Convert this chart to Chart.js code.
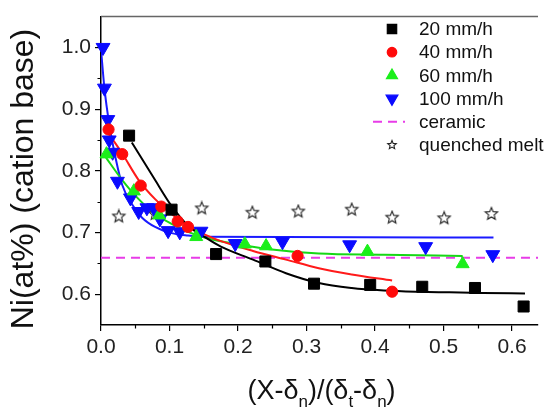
<!DOCTYPE html>
<html>
<head>
<meta charset="utf-8">
<script src="https://cdn.jsdelivr.net/npm/chart.js@4/dist/chart.umd.min.js"></script>
<style>
  html, body { margin: 0; padding: 0; background: #fff; }
</style>
</head>
<body>
<canvas id="chart" width="547" height="417"></canvas>
<script>
// values
const x20 = [0.041, 0.103, 0.168, 0.240, 0.311, 0.393, 0.469, 0.546, 0.617];
const y20 = [0.857, 0.737, 0.665, 0.653, 0.617, 0.615, 0.612, 0.610, 0.580];
const x40 = [0.011, 0.031, 0.058, 0.088, 0.112, 0.127, 0.287, 0.425];
const y40 = [0.867, 0.827, 0.776, 0.742, 0.718, 0.709, 0.662, 0.604];
const x60 = [0.008, 0.048, 0.085, 0.139, 0.210, 0.241, 0.389, 0.528];
const y60 = [0.827, 0.767, 0.728, 0.693, 0.681, 0.678, 0.669, 0.649];
const x100 = [0.003, 0.005, 0.010, 0.012, 0.017, 0.024, 0.043, 0.055, 0.067, 0.077, 0.086, 0.098, 0.115, 0.146, 0.196, 0.265, 0.363, 0.474, 0.572];
const y100 = [1.000, 0.934, 0.883, 0.850, 0.830, 0.783, 0.756, 0.734, 0.740, 0.740, 0.722, 0.703, 0.701, 0.702, 0.682, 0.685, 0.680, 0.677, 0.664];
const xMelt = [0.026, 0.079, 0.147, 0.221, 0.288, 0.366, 0.425, 0.501, 0.570];
const yMelt = [0.726, 0.730, 0.739, 0.732, 0.734, 0.737, 0.724, 0.723, 0.730];
const ceramicLevel = 0.659;

// fitted curves
const fit20x = [0.045, 0.079, 0.103, 0.127, 0.151, 0.175, 0.222, 0.270, 0.318, 0.366, 0.413, 0.461, 0.509, 0.557, 0.619];
const fit20y = [0.846, 0.785, 0.743, 0.711, 0.693, 0.677, 0.656, 0.634, 0.618, 0.610, 0.606, 0.604, 0.603, 0.602, 0.601];
const fit40x = [0.005, 0.031, 0.055, 0.079, 0.103, 0.127, 0.151, 0.175, 0.222, 0.270, 0.318, 0.366, 0.425];
const fit40y = [0.870, 0.828, 0.785, 0.754, 0.730, 0.711, 0.697, 0.686, 0.670, 0.656, 0.642, 0.632, 0.622];
const fit60x = [0.005, 0.031, 0.055, 0.079, 0.103, 0.127, 0.151, 0.199, 0.246, 0.318, 0.413, 0.528];
const fit60y = [0.825, 0.785, 0.754, 0.730, 0.714, 0.701, 0.692, 0.681, 0.673, 0.666, 0.664, 0.662];
const fit100x = [0.000, 0.005, 0.012, 0.022, 0.031, 0.045, 0.060, 0.079, 0.103, 0.127, 0.151, 0.573];
const fit100y = [0.997, 0.934, 0.876, 0.817, 0.777, 0.746, 0.724, 0.709, 0.699, 0.695, 0.693, 0.692];

const xTicks = [0.0, 0.1, 0.2, 0.3, 0.4, 0.5, 0.6];
const xMinor = [0.05, 0.15, 0.25, 0.35, 0.45, 0.55];
const yTicks = [0.6, 0.7, 0.8, 0.9, 1.0];
const yMinor = [0.65, 0.75, 0.85, 0.95];
const xMin = 0, xMax = 0.638, yMin = 0.55, yMax = 1.05;

const FONT = "'Liberation Sans', Arial, sans-serif";
const pts = (xs, ys) => xs.map((x, i) => ({ x: x, y: ys[i] }));

// open five point star for the quenched melt points
function makeStar(size, r) {
    const c = document.createElement('canvas');
    c.width = size; c.height = size;
    const g = c.getContext('2d');
    g.beginPath();
    for (let i = 0; i < 10; i++) {
        const rad = i % 2 === 0 ? r : r * 0.45;
        const a = -Math.PI / 2 + i * Math.PI / 5;
        g.lineTo(size / 2 + rad * Math.cos(a), size / 2 + rad * Math.sin(a));
    }
    g.closePath();
    g.strokeStyle = '#222';
    g.lineWidth = 1.1;
    g.stroke();
    return c;
}
const starImg = makeStar(16, 6.5);
const starSmall = makeStar(12, 4.5);

const markers = (label, data, style, color, radius, rotation) => ({
    label: label,
    data: data,
    showLine: false,
    pointStyle: style,
    pointRadius: radius,
    pointRotation: rotation || 0,
    backgroundColor: color,
    borderColor: color,
    borderWidth: 1,
    clip: false
});
const curve = (data, color) => ({
    data: data,
    showLine: true,
    pointRadius: 0,
    borderColor: color,
    borderWidth: 2,
    cubicInterpolationMode: 'monotone',
    fill: false
});

const datasets = [
    markers('20 mm/h', pts(x20, y20), 'rect', '#000000', 7.8),
    markers('40 mm/h', pts(x40, y40), 'circle', '#ff0a0a', 5.6),
    markers('60 mm/h', pts(x60, y60), 'triangle', '#1bef1b', 7.5),
    markers('100 mm/h', pts(x100, y100), 'triangle', '#0a0aff', 8, 180),
    markers('quenched melt', pts(xMelt, yMelt), starImg, '#222', 7),
    curve(pts(fit20x, fit20y), '#000000'),
    curve(pts(fit40x, fit40y), '#ff1a1a'),
    curve(pts(fit60x, fit60y), '#16d816'),
    curve(pts(fit100x, fit100y), '#1a1aff'),
    {
        label: 'ceramic',
        data: [{ x: xMin, y: ceramicLevel }, { x: xMax, y: ceramicLevel }],
        showLine: true,
        pointRadius: 0,
        borderColor: '#e83ce8',
        borderWidth: 2,
        borderDash: [9, 6]
    }
];

// legend rows: dataset index per row
const legendRows = [0, 1, 2, 3, 9, 4];

const extrasPlugin = {
    id: 'extras',
    afterDraw(chart) {
        const ctx = chart.ctx;
        const area = chart.chartArea;
        const sx = chart.scales.x, sy = chart.scales.y;
        ctx.save();

        // top frame line
        ctx.strokeStyle = '#666';
        ctx.lineWidth = 1.5;
        ctx.beginPath();
        ctx.moveTo(area.left, area.top);
        ctx.lineTo(area.right, area.top);
        ctx.stroke();

        // minor ticks
        ctx.strokeStyle = '#000';
        ctx.lineWidth = 1.2;
        ctx.beginPath();
        xMinor.forEach(v => {
            const px = Math.round(sx.getPixelForValue(v)) + 0.5;
            ctx.moveTo(px, area.bottom);
            ctx.lineTo(px, area.bottom + 3.5);
        });
        yMinor.forEach(v => {
            const py = Math.round(sy.getPixelForValue(v)) + 0.5;
            ctx.moveTo(area.left, py);
            ctx.lineTo(area.left - 3.5, py);
        });
        ctx.stroke();

        // x axis title with subscripts
        const parts = [['(X-δ', 0], ['n', 1], [')/(δ', 0], ['t', 1], ['-δ', 0], ['n', 1], [')', 0]];
        const big = '27px ' + FONT, small = '17px ' + FONT;
        let total = 0;
        parts.forEach(p => { ctx.font = p[1] ? small : big; total += ctx.measureText(p[0]).width; });
        let tx = (area.left + area.right) / 2 - total / 2 + 2;
        const base = 399;
        ctx.fillStyle = '#111';
        ctx.textBaseline = 'alphabetic';
        ctx.textAlign = 'left';
        parts.forEach(p => {
            ctx.font = p[1] ? small : big;
            ctx.fillText(p[0], tx, base + (p[1] ? 8 : 0));
            tx += ctx.measureText(p[0]).width;
        });

        // y axis title, rotated
        ctx.save();
        ctx.translate(33, 179);
        ctx.rotate(-Math.PI / 2);
        ctx.font = '32px ' + FONT;
        ctx.textAlign = 'center';
        ctx.fillText('Ni(at%) (cation base)', 0, 0);
        ctx.restore();

        // legend
        ctx.font = '19px ' + FONT;
        ctx.textBaseline = 'middle';
        ctx.textAlign = 'left';
        legendRows.forEach((di, i) => {
            const ds = chart.data.datasets[di];
            const y = 29 + i * 23.2;
            const sxp = 392;
            if (ds.borderDash) {
                ctx.strokeStyle = ds.borderColor;
                ctx.lineWidth = 2;
                ctx.setLineDash(ds.borderDash);
                ctx.beginPath();
                ctx.moveTo(373, y);
                ctx.lineTo(405, y);
                ctx.stroke();
                ctx.setLineDash([]);
            } else if (ds.pointStyle === starImg) {
                ctx.drawImage(starSmall, sxp - 6, y - 6);
            } else {
                ctx.fillStyle = ds.backgroundColor;
                ctx.strokeStyle = ds.borderColor;
                Chart.helpers.drawPoint(ctx, {
                    pointStyle: ds.pointStyle,
                    radius: ds.pointRadius * 0.85,
                    rotation: ds.pointRotation,
                    borderWidth: 1
                }, sxp, y);
            }
            ctx.fillStyle = '#111';
            ctx.fillText(ds.label, 419, y + 1);
        });
        ctx.restore();
    }
};

new Chart(document.getElementById('chart'), {
    type: 'scatter',
    data: { datasets: datasets },
    options: {
        responsive: false,
        animation: false,
        layout: { padding: { top: 10, right: 0, left: 0, bottom: 0 } },
        plugins: {
            legend: { display: false },
            tooltip: { enabled: false }
        },
        scales: {
            x: {
                type: 'linear',
                min: xMin,
                max: xMax,
                afterBuildTicks: s => { s.ticks = xTicks.map(v => ({ value: v })); },
                afterFit: s => { s.height = 92; },
                ticks: {
                    font: { family: FONT, size: 21 },
                    color: '#222',
                    padding: 4,
                    maxRotation: 0,
                    callback: v => v.toFixed(1)
                },
                grid: { drawOnChartArea: false, tickLength: 6, color: '#000', lineWidth: 1.2 },
                border: { color: '#000', width: 1.5 }
            },
            y: {
                type: 'linear',
                min: yMin,
                max: yMax,
                afterBuildTicks: s => { s.ticks = yTicks.map(v => ({ value: v })); },
                afterFit: s => { s.width = 101; },
                ticks: {
                    font: { family: FONT, size: 21 },
                    color: '#222',
                    padding: 4,
                    callback: v => v.toFixed(1)
                },
                grid: { drawOnChartArea: false, tickLength: 6, color: '#000', lineWidth: 1.2 },
                border: { color: '#000', width: 1.5 }
            }
        }
    },
    plugins: [extrasPlugin]
});
</script>
</body>
</html>
